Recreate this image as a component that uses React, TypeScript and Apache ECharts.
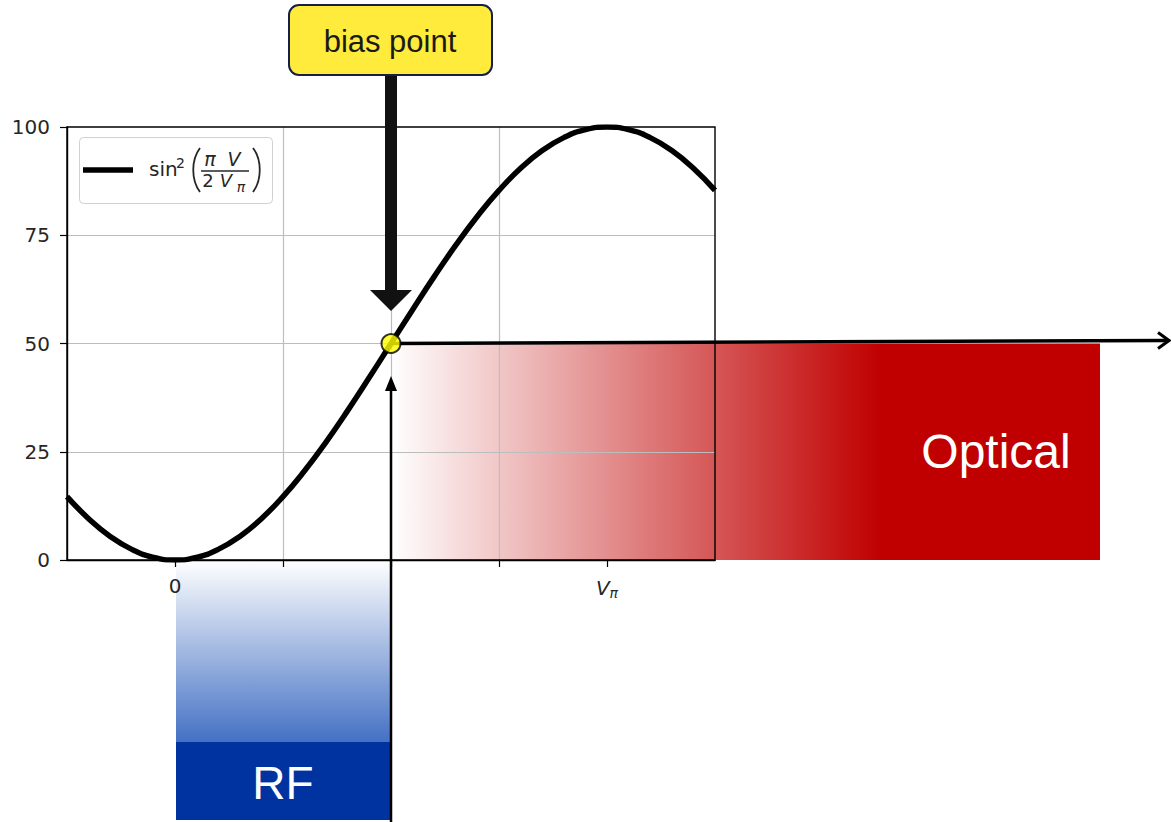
import React, { useEffect, useRef } from "react";
import * as echarts from "echarts";

// x in units of V_pi, y in percent transmission
const voltage = [
  -0.25, -0.2, -0.15, -0.1, -0.05, 0, 0.05, 0.1, 0.15, 0.2, 0.25, 0.3, 0.35, 0.4, 0.45, 0.5,
  0.55, 0.6, 0.65, 0.7, 0.75, 0.8, 0.85, 0.9, 0.95, 1.0, 1.05, 1.1, 1.15, 1.2, 1.25,
];
const transmission = [
  14.64, 9.55, 5.45, 2.45, 0.62, 0, 0.62, 2.45, 5.45, 9.55, 14.64, 20.61, 27.3, 34.55, 42.18, 50,
  57.82, 65.45, 72.7, 79.39, 85.36, 90.45, 94.55, 97.55, 99.38, 100, 99.38, 97.55, 94.55, 90.45, 85.36,
];
const biasPoint = [0.5, 50];
const xTickPositions = [0, 0.25, 0.5, 0.75, 1];
const xTickValues = [0, 1];
const xTickTexts = ["0", "{v|V}{p|π}"];
const yTicks = [0, 25, 50, 75, 100];

const MONO = '"DejaVu Sans", sans-serif';
const ARIAL = '"Liberation Sans", Arial, sans-serif';

export default function App() {
  const ref = useRef<HTMLDivElement>(null);

  useEffect(() => {
    if (!ref.current) return;
    const chart = echarts.init(ref.current, undefined, { renderer: "svg" });
    const option: any = {
      animation: false,
      backgroundColor: "#ffffff",
      grid: {
        left: 67,
        top: 127,
        right: 456,
        bottom: 262,
        show: true,
        borderColor: "#000",
        borderWidth: 1.4,
        backgroundColor: "transparent",
        z: 3,
      },
      xAxis: {
        type: "value",
        min: -0.25,
        max: 1.25,
        interval: 0.25,
        axisLine: { show: true, onZero: false, lineStyle: { color: "#000", width: 1.4 } },
        axisTick: {
          show: true,
          length: 7,
          customValues: xTickPositions,
          lineStyle: { color: "#000", width: 1.2 },
        },
        splitLine: {
          show: true,
          showMinLine: false,
          showMaxLine: false,
          lineStyle: { color: "#bdbdbd", width: 1.2 },
        },
        axisLabel: {
          margin: 16,
          color: "#262626",
          fontFamily: MONO,
          fontSize: 20,
          customValues: xTickValues,
          formatter: (v: number) => {
            const i = xTickValues.findIndex((t) => Math.abs(t - v) < 1e-9);
            return i >= 0 ? xTickTexts[i] : "";
          },
          rich: {
            v: { fontFamily: MONO, fontSize: 20, fontStyle: "italic", color: "#262626" },
            p: { fontFamily: MONO, fontSize: 14, fontStyle: "italic", color: "#262626", padding: [10, 0, 0, 0] },
          },
        },
      },
      yAxis: {
        type: "value",
        min: yTicks[0],
        max: yTicks[yTicks.length - 1],
        interval: 25,
        axisLine: { show: true, onZero: false, lineStyle: { color: "#000", width: 1.4 } },
        axisTick: { show: true, length: 7, lineStyle: { color: "#000", width: 1.2 } },
        splitLine: {
          show: true,
          showMinLine: false,
          showMaxLine: false,
          lineStyle: { color: "#bdbdbd", width: 1.2 },
        },
        axisLabel: { margin: 17, color: "#262626", fontFamily: MONO, fontSize: 20 },
      },
      series: [
        {
          type: "line",
          data: voltage.map((v, i) => [v, transmission[i]]),
          showSymbol: false,
          smooth: true,
          lineStyle: { color: "#000", width: 5.5 },
          z: 5,
        },
        {
          type: "scatter",
          data: [biasPoint],
          symbol: "circle",
          symbolSize: 19,
          itemStyle: { color: "#ffff00", borderColor: "#000", borderWidth: 2 },
          z: 20,
        },
      ],
    };
    chart.setOption(option);

    const bp = chart.convertToPixel({ xAxisIndex: 0, yAxisIndex: 0 }, biasPoint) as number[];
    const origin = chart.convertToPixel({ xAxisIndex: 0, yAxisIndex: 0 }, [0, 0]) as number[];
    const bx = bp[0];
    const by = bp[1];
    const x0 = origin[0];
    const y0 = origin[1];
    const redRight = 1100;
    const blueSplit = 742;
    const blueBottom = 820;
    const arrowEndX = 1170;
    const arrowEndY = by - 3;

    const txt = (x: number, y: number, text: string, font: string, align = "center") => ({
      type: "text",
      z: 11,
      x,
      y,
      style: { text, fill: "#262626", font, align, verticalAlign: "middle" },
    });

    const graphic: any[] = [
      // optical (red) band
      {
        type: "rect",
        z: -1,
        silent: true,
        shape: { x: bx, y: by, width: redRight - bx, height: y0 - by },
        style: {
          fill: new echarts.graphic.LinearGradient(0, 0, 1, 0, [
            { offset: 0, color: "#ffffff" },
            { offset: 0.69, color: "#c00000" },
            { offset: 1, color: "#c00000" },
          ]),
        },
      },
      {
        type: "text",
        z: 12,
        x: 996,
        y: (by + y0) / 2,
        style: {
          text: "Optical",
          fill: "#ffffff",
          font: `48px ${ARIAL}`,
          align: "center",
          verticalAlign: "middle",
        },
      },
      // RF (blue) band
      {
        type: "rect",
        z: -1,
        silent: true,
        shape: { x: x0 + 1, y: y0, width: bx - x0 - 1, height: blueSplit - y0 },
        style: {
          fill: new echarts.graphic.LinearGradient(0, 0, 0, 1, [
            { offset: 0, color: "#ffffff" },
            { offset: 1, color: "#4471c4" },
          ]),
        },
      },
      {
        type: "rect",
        z: -1,
        silent: true,
        shape: { x: x0 + 1, y: blueSplit, width: bx - x0 - 1, height: blueBottom - blueSplit },
        style: { fill: "#0033a0" },
      },
      {
        type: "text",
        z: 12,
        x: (x0 + bx) / 2,
        y: (blueSplit + blueBottom) / 2 + 2,
        style: {
          text: "RF",
          fill: "#ffffff",
          font: `46px ${ARIAL}`,
          align: "center",
          verticalAlign: "middle",
        },
      },
      // vertical thin arrow from bottom
      {
        type: "line",
        z: 12,
        shape: { x1: bx, y1: 822, x2: bx, y2: 385 },
        style: { stroke: "#000", lineWidth: 2.5 },
      },
      {
        type: "polygon",
        z: 12,
        shape: { points: [[bx, 376], [bx - 6, 391], [bx + 6, 391]] },
        style: { fill: "#000" },
      },
      // horizontal arrow to the right
      {
        type: "line",
        z: 12,
        shape: { x1: bx, y1: by, x2: arrowEndX - 3, y2: arrowEndY },
        style: { stroke: "#000", lineWidth: 3.5 },
      },
      {
        type: "polyline",
        z: 12,
        shape: {
          points: [
            [arrowEndX - 12, arrowEndY - 8],
            [arrowEndX - 1, arrowEndY],
            [arrowEndX - 12, arrowEndY + 8],
          ],
        },
        style: { stroke: "#000", lineWidth: 3, fill: "none" },
      },
      // thick down arrow from label
      {
        type: "rect",
        z: 12,
        shape: { x: bx - 6, y: 74, width: 12, height: 218 },
        style: { fill: "#111111" },
      },
      {
        type: "polygon",
        z: 12,
        shape: { points: [[bx - 21, 290], [bx + 21, 290], [bx, 311]] },
        style: { fill: "#111111" },
      },
      // bias point label
      {
        type: "rect",
        z: 13,
        shape: { x: bx - 102, y: 5, width: 203, height: 70, r: 10 },
        style: { fill: "#ffeb3b", stroke: "#14204a", lineWidth: 2 },
      },
      {
        type: "text",
        z: 14,
        x: bx - 1,
        y: 41,
        style: {
          text: "bias point",
          fill: "#1a1a1a",
          font: `31px ${ARIAL}`,
          align: "center",
          verticalAlign: "middle",
        },
      },
      // legend
      {
        type: "rect",
        z: 10,
        shape: { x: 79.5, y: 137.5, width: 193, height: 66, r: 4 },
        style: { fill: "rgba(255,255,255,0.8)", stroke: "#d0d0d0", lineWidth: 1 },
      },
      {
        type: "line",
        z: 11,
        shape: { x1: 83, y1: 170, x2: 133, y2: 170 },
        style: { stroke: "#000", lineWidth: 5.5 },
      },
      txt(149, 169, "sin", `20px ${MONO}`, "left"),
      txt(176, 163, "2", `14px ${MONO}`, "left"),
      {
        type: "bezierCurve",
        z: 11,
        shape: { x1: 200, y1: 148, cpx1: 191, cpy1: 160, cpx2: 191, cpy2: 180, x2: 200, y2: 192 },
        style: { stroke: "#262626", lineWidth: 1.8, fill: "none" },
      },
      {
        type: "bezierCurve",
        z: 11,
        shape: { x1: 253, y1: 148, cpx1: 262, cpy1: 160, cpx2: 262, cpy2: 180, x2: 253, y2: 192 },
        style: { stroke: "#262626", lineWidth: 1.8, fill: "none" },
      },
      txt(210, 159, "π", `italic 19px ${MONO}`),
      txt(234, 159, "V", `italic 19px ${MONO}`),
      {
        type: "line",
        z: 11,
        shape: { x1: 201, y1: 171, x2: 249, y2: 171 },
        style: { stroke: "#262626", lineWidth: 1.4 },
      },
      txt(208, 180, "2", `18px ${MONO}`),
      txt(226, 180, "V", `italic 18px ${MONO}`),
      txt(241, 187, "π", `italic 14px ${MONO}`),
    ];
    chart.setOption({ graphic });

    return () => chart.dispose();
  }, []);

  return (
    <div
      ref={ref}
      style={{ position: "fixed", left: 0, top: 0, width: 1171, height: 822, background: "#fff" }}
    />
  );
}
